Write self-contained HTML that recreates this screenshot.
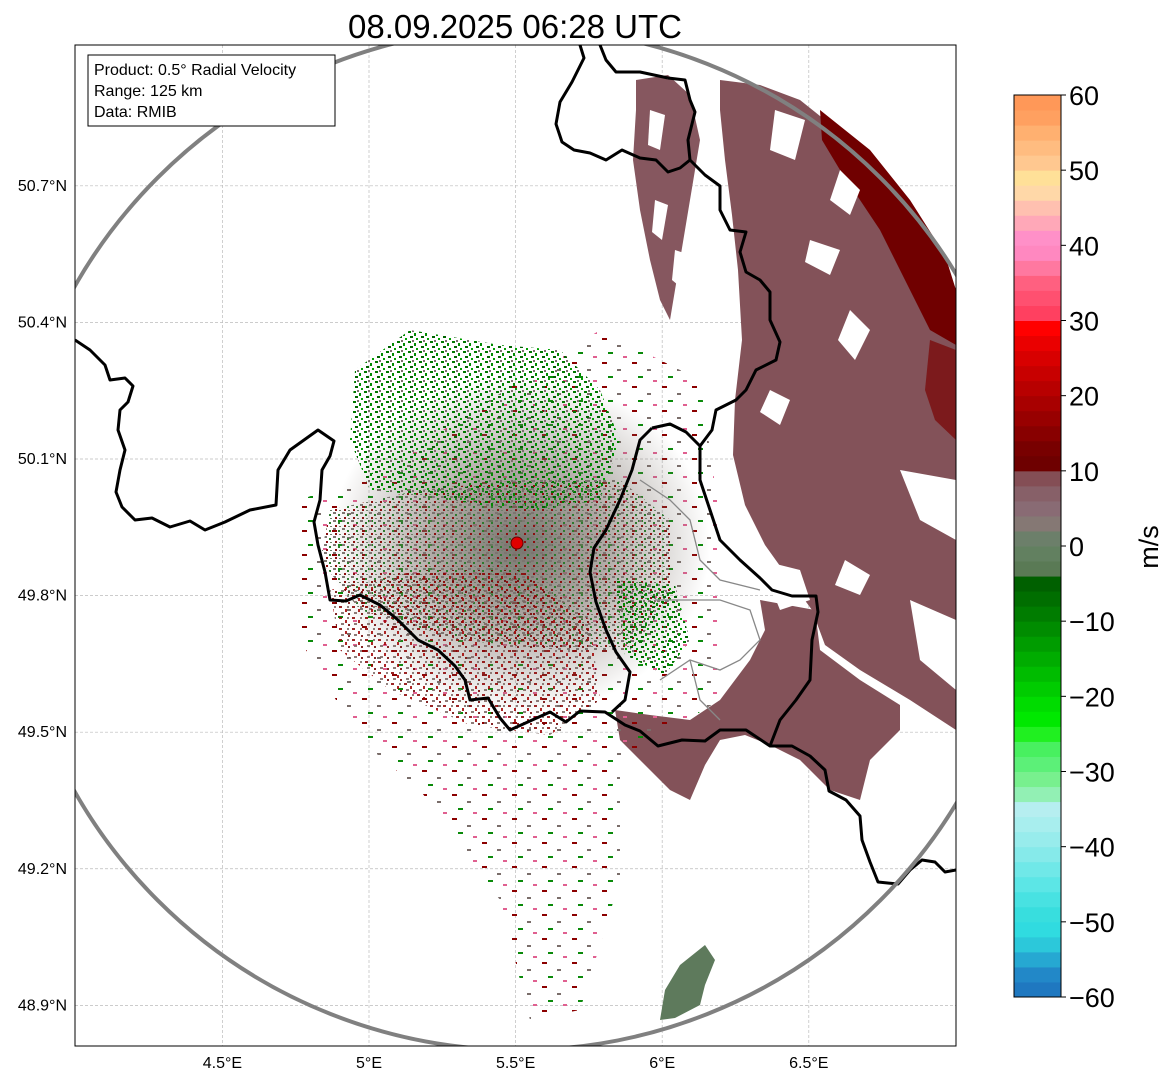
<!DOCTYPE html>
<html><head><meta charset="utf-8"><style>
html,body{margin:0;padding:0;background:#fff;}
body{width:1171px;height:1081px;overflow:hidden;font-family:"Liberation Sans","DejaVu Sans",sans-serif;}
</style></head><body>
<svg id="chart" width="1171" height="1081" viewBox="0 0 1171 1081" xmlns="http://www.w3.org/2000/svg" font-family="Liberation Sans, DejaVu Sans, sans-serif">
<defs>
<clipPath id="frameclip"><rect x="75" y="45" width="881" height="1001"/></clipPath>
<pattern id="greenSpeck" width="11" height="10" patternUnits="userSpaceOnUse">
 <rect x="1" y="1" width="3" height="2" fill="#007800"/><rect x="7" y="3" width="2" height="3" fill="#008a00"/>
 <rect x="3" y="6" width="3" height="2" fill="#006400"/><rect x="9" y="8" width="2" height="2" fill="#00a000"/>
 <rect x="5" y="0" width="2" height="2" fill="#7a706c"/>
</pattern>
<pattern id="redSpeck" width="13" height="11" patternUnits="userSpaceOnUse">
 <rect x="1" y="1" width="3" height="2" fill="#8b0000"/><rect x="7" y="4" width="2" height="3" fill="#a00000"/>
 <rect x="3" y="7" width="3" height="2" fill="#7a6460"/><rect x="10" y="8" width="2" height="2" fill="#6e0000"/>
 <rect x="9" y="1" width="2" height="2" fill="#7d6a66"/>
</pattern>
<pattern id="mixSpeck" width="9" height="8" patternUnits="userSpaceOnUse">
 <rect x="0" y="0" width="3" height="2" fill="#7d7570"/><rect x="5" y="2" width="2" height="2" fill="#2f7a2f"/>
 <rect x="2" y="5" width="2" height="2" fill="#8b1010"/><rect x="6" y="6" width="2" height="1" fill="#6f7f6a"/>
</pattern>
<pattern id="sparse" width="30" height="24" patternUnits="userSpaceOnUse">
 <rect x="2" y="2" width="5" height="2" fill="#8b0000"/><rect x="17" y="9" width="4" height="2" fill="#7a6d6a"/>
 <rect x="8" y="16" width="5" height="2" fill="#0a8a0a"/><rect x="23" y="20" width="4" height="2" fill="#e06090"/>
</pattern>
<radialGradient id="coreGrad" cx="0.5" cy="0.5" r="0.5">
 <stop offset="0" stop-color="#75766e" stop-opacity="1"/>
 <stop offset="0.45" stop-color="#7a7068" stop-opacity="0.6"/>
 <stop offset="1" stop-color="#7a7068" stop-opacity="0"/>
</radialGradient>
</defs>

<text x="515" y="38" font-size="33" text-anchor="middle" fill="#000">08.09.2025 06:28 UTC</text>

<g id="map" clip-path="url(#frameclip)">
 <rect x="75" y="45" width="881" height="1001" fill="#fff"/>
 <g id="grid" stroke="#bbb" stroke-width="0.7" stroke-dasharray="3,2"></g>

 <g>
  <polygon fill="#835259" points="720,80 760,85 800,100 850,140 900,200 940,260 956,300 956,730 910,700 860,670 825,645 812,610 790,580 765,545 745,505 733,455 735,400 742,340 738,270 732,215 725,160 720,110"/>
  <polygon fill="#86575f" points="636,80 668,75 690,95 700,140 690,200 680,260 670,320 660,300 650,260 640,210 633,160 636,110"/>
  <polygon fill="#700000" points="820,110 870,150 910,200 945,255 956,290 956,345 930,330 915,300 900,270 880,230 860,200 840,170 822,140"/>
  <polygon fill="#7a0808" opacity="0.75" points="930,340 956,350 956,440 935,420 925,390"/>
  <polygon fill="#835259" points="760,600 815,610 820,650 860,680 900,705 900,730 870,760 860,800 830,790 800,760 770,745 745,735 720,740 705,765 690,800 670,790 640,760 620,740 615,710 650,715 690,720 720,700 750,660 765,630"/>
  <polygon fill="#5e7a5c" points="660,1020 665,990 680,965 705,945 715,960 705,985 700,1005 675,1018"/>
  <g fill="#fff">
   <polygon points="775,110 805,120 795,160 770,150"/>
   <polygon points="840,170 860,190 850,215 830,200"/>
   <polygon points="810,240 840,250 830,275 805,262"/>
   <polygon points="850,310 870,330 855,360 838,340"/>
   <polygon points="770,390 790,400 780,425 760,412"/>
   <polygon points="760,560 800,570 810,600 780,610"/>
   <polygon points="900,470 956,480 956,540 920,520"/>
   <polygon points="845,560 870,575 860,595 835,585"/>
   <polygon points="910,600 956,620 956,690 920,660"/>
   <polygon points="650,110 665,115 660,150 648,145"/>
   <polygon points="655,200 668,205 662,240 652,232"/>
   <polygon points="675,250 690,255 684,290 672,280"/>
  </g>
  <polygon fill="url(#sparse)" points="300,500 380,470 600,330 700,380 720,520 720,700 620,760 620,880 580,1010 530,1020 500,900 420,790 360,740 300,640"/>
  <ellipse cx="520" cy="545" rx="190" ry="170" fill="url(#coreGrad)"/>
  <polygon fill="url(#greenSpeck)" points="355,370 410,330 500,345 560,350 600,390 620,440 600,500 540,510 480,505 420,495 370,490 350,440"/>
  <polygon fill="url(#mixSpeck)" points="330,510 420,490 520,480 620,480 670,520 670,600 630,650 560,650 460,640 360,610 320,560"/>
  <polygon fill="url(#redSpeck)" opacity="0.85" points="330,590 420,570 520,570 590,620 600,700 550,735 470,725 390,690 340,650"/>
  <polygon fill="url(#greenSpeck)" points="615,580 675,585 690,640 665,675 625,655"/>
 </g>

 <g fill="none" stroke="#000" stroke-width="3" stroke-linejoin="round">
  <polyline points="75,340 90,350 105,365 110,380 125,378 133,386 128,402 120,410 118,430 125,450 120,470 116,492 122,507 135,520 152,518 170,527 190,521 205,530 225,522 250,510 276,505 278,470 290,450 304,440 318,430 334,441 330,456 322,470 320,500 314,522 318,545 325,572 330,600 346,601 360,595 380,605 398,620 418,640 438,650 455,666 465,680 470,700 488,698 500,718 510,730 530,721 550,712 566,722 580,711 605,712 625,725 640,731 658,746 682,740 705,741 720,730 746,730 770,746 792,746 810,756 825,770 829,791 846,800 860,816 862,840 870,862 878,882 898,884 910,870 922,860 935,862 945,872 956,870"/>
  <polyline points="652,428 640,440 632,470 620,500 606,530 594,548 590,572 596,602 606,630 616,652 630,672 625,700 612,712"/>
  <polyline points="652,428 670,424 686,432 700,446 700,480 710,510 720,540 740,560 760,578 772,590 792,596 816,596 818,612 812,640 810,680 796,700 780,720 770,746"/>
  <polyline points="668,78 685,80 690,100 695,112 688,140 690,160 705,175 720,186 720,210 730,230 746,232 740,252 746,272 760,280 770,292 770,320 780,342 776,360 756,370 746,390 736,400 716,410 712,430 700,446"/>
  <polyline points="580,45 584,58 572,82 560,102 556,124 562,142 574,150 590,153 606,160 622,150 640,158 656,160 668,172 680,168 690,160"/>
  <polyline points="600,45 606,60 616,72 640,72 668,78"/>
 </g>
 <g fill="none" stroke="#888" stroke-width="1.3">
  <polyline points="640,480 670,500 690,520 700,560 720,580 760,590"/>
  <polyline points="655,600 690,600 720,600 750,610 760,640 740,660 720,670 690,660 660,680"/>
  <polyline points="690,660 700,700 720,720"/>
 </g>
 <circle cx="519" cy="539" r="511" fill="none" stroke="#808080" stroke-width="4"/>
 <circle cx="517" cy="543" r="6" fill="#e00000" stroke="#600" stroke-width="1"/>
</g>
<rect x="75" y="45" width="881" height="1001" fill="none" stroke="#000" stroke-width="1"/>

<g>
 <rect x="88" y="55" width="247" height="71" fill="#fff" stroke="#000" stroke-width="1"/>
 <text x="94" y="75" font-size="16">Product: 0.5° Radial Velocity</text>
 <text x="94" y="96" font-size="16">Range: 125 km</text>
 <text x="94" y="117" font-size="16">Data: RMIB</text>
</g>

<g id="lonlabels" font-size="16" text-anchor="middle"></g>
<g id="latlabels" font-size="16" text-anchor="end"></g>

<g id="colorbar"></g>
<text font-size="27" text-anchor="middle" transform="translate(1158,547) rotate(-90)">m/s</text>
</svg>
<script>
const lonTicks = [4.5, 5, 5.5, 6, 6.5];
const lonTickLabels = ["4.5°E", "5°E", "5.5°E", "6°E", "6.5°E"];
const latTicks = [50.7, 50.4, 50.1, 49.8, 49.5, 49.2, 48.9];
const latTickLabels = ["50.7°N", "50.4°N", "50.1°N", "49.8°N", "49.5°N", "49.2°N", "48.9°N"];
const cbTicks = [-60, -50, -40, -30, -20, -10, 0, 10, 20, 30, 40, 50, 60];
const cbTickLabels = ["\u221260", "\u221250", "\u221240", "\u221230", "\u221220", "\u221210", "0", "10", "20", "30", "40", "50", "60"];
const cbBandStarts = [-60,-58,-56,-54,-52,-50,-48,-46,-44,-42,-40,-38,-36,-34,-32,-30,-28,-26,-24,-22,-20,-18,-16,-14,-12,-10,-8,-6,-4,-2,0,2,4,6,8,10,12,14,16,18,20,22,24,26,28,30,32,34,36,38,40,42,44,46,48,50,52,54,56,58];
const cbBandColors = ["#1f78c0","#2288c8","#26a8d2","#2cc8da","#30dbe0","#38dede","#48e2e2","#5ce6e6","#70e8e8","#86eaea","#98ecec","#a8eeee","#b6eef0","#92f0b4","#78f08e","#5cf078","#48f060","#20f020","#00e800","#00dc00","#00cc00","#00bc00","#00ac00","#009c00","#008c00","#007c00","#006e00","#006000","#5a7a55","#628060","#6c7f6a","#857874","#896b74","#876068","#844e55","#6e0000","#780000","#880000","#980000","#a80000","#b80000","#c80000","#d80000","#ea0000","#ff0000","#ff4060","#ff5070","#ff6080","#ff78a0","#ff88c0","#ff90c8","#ffa8b8","#ffc0b0","#ffd8a8","#ffe098","#ffc890","#ffbc80","#ffb070","#ffa060","#ff9858"];

const NS = "http://www.w3.org/2000/svg";
function lonX(lon){ return 369 + (lon - 5) * 293.2; }
function latY(lat){ return 459 - (lat - 50.1) * 455.3; }
function cbY(v){ return 997 - (v + 60) * (902 / 120); }

const grid = document.getElementById('grid');
lonTicks.forEach(function(lon){
  const l = document.createElementNS(NS,'line');
  
  
  l.setAttribute('x1',lonX(lon)); l.setAttribute('x2',lonX(lon));
  l.setAttribute('y1',45); l.setAttribute('y2',1046);
  grid.appendChild(l);
});
latTicks.forEach(function(lat){
  const l = document.createElementNS(NS,'line');
  
  
  l.setAttribute('x1',75); l.setAttribute('x2',956);
  l.setAttribute('y1',latY(lat)); l.setAttribute('y2',latY(lat));
  grid.appendChild(l);
});
const lonG = document.getElementById('lonlabels');
lonTicks.forEach(function(lon,i){
  const t = document.createElementNS(NS,'text');
  
  
  t.setAttribute('x',lonX(lon)); t.setAttribute('y',1068);
  t.textContent = lonTickLabels[i];
  lonG.appendChild(t);
});
const latG = document.getElementById('latlabels');
latTicks.forEach(function(lat,i){
  const t = document.createElementNS(NS,'text');
  
  
  t.setAttribute('x',67); t.setAttribute('y',latY(lat)+5);
  t.textContent = latTickLabels[i];
  latG.appendChild(t);
});
const cb = document.getElementById('colorbar');
cbBandStarts.forEach(function(v,i){
  const r = document.createElementNS(NS,'rect');
  
  
  const y1 = cbY(v + 2), y0 = cbY(v);
  r.setAttribute('x',1014); r.setAttribute('width',47);
  r.setAttribute('y',y1); r.setAttribute('height',y0 - y1 + 0.5);
  r.setAttribute('fill',cbBandColors[i]);
  cb.appendChild(r);
});
const frame = document.createElementNS(NS,'rect');


frame.setAttribute('x',1014); frame.setAttribute('y',cbY(60));
frame.setAttribute('width',47); frame.setAttribute('height',cbY(-60)-cbY(60));
frame.setAttribute('fill','none'); frame.setAttribute('stroke','#000');
cb.appendChild(frame);
cbTicks.forEach(function(v,i){
  const l = document.createElementNS(NS,'line');
  
  
  l.setAttribute('x1',1061); l.setAttribute('x2',1066);
  l.setAttribute('y1',cbY(v)); l.setAttribute('y2',cbY(v));
  l.setAttribute('stroke','#000');
  cb.appendChild(l);
  const t = document.createElementNS(NS,'text');
  
  
  t.setAttribute('x',1069); t.setAttribute('y',cbY(v)+10);
  t.setAttribute('font-size','27');
  t.textContent = cbTickLabels[i];
  cb.appendChild(t);
});
</script>
</body></html>
